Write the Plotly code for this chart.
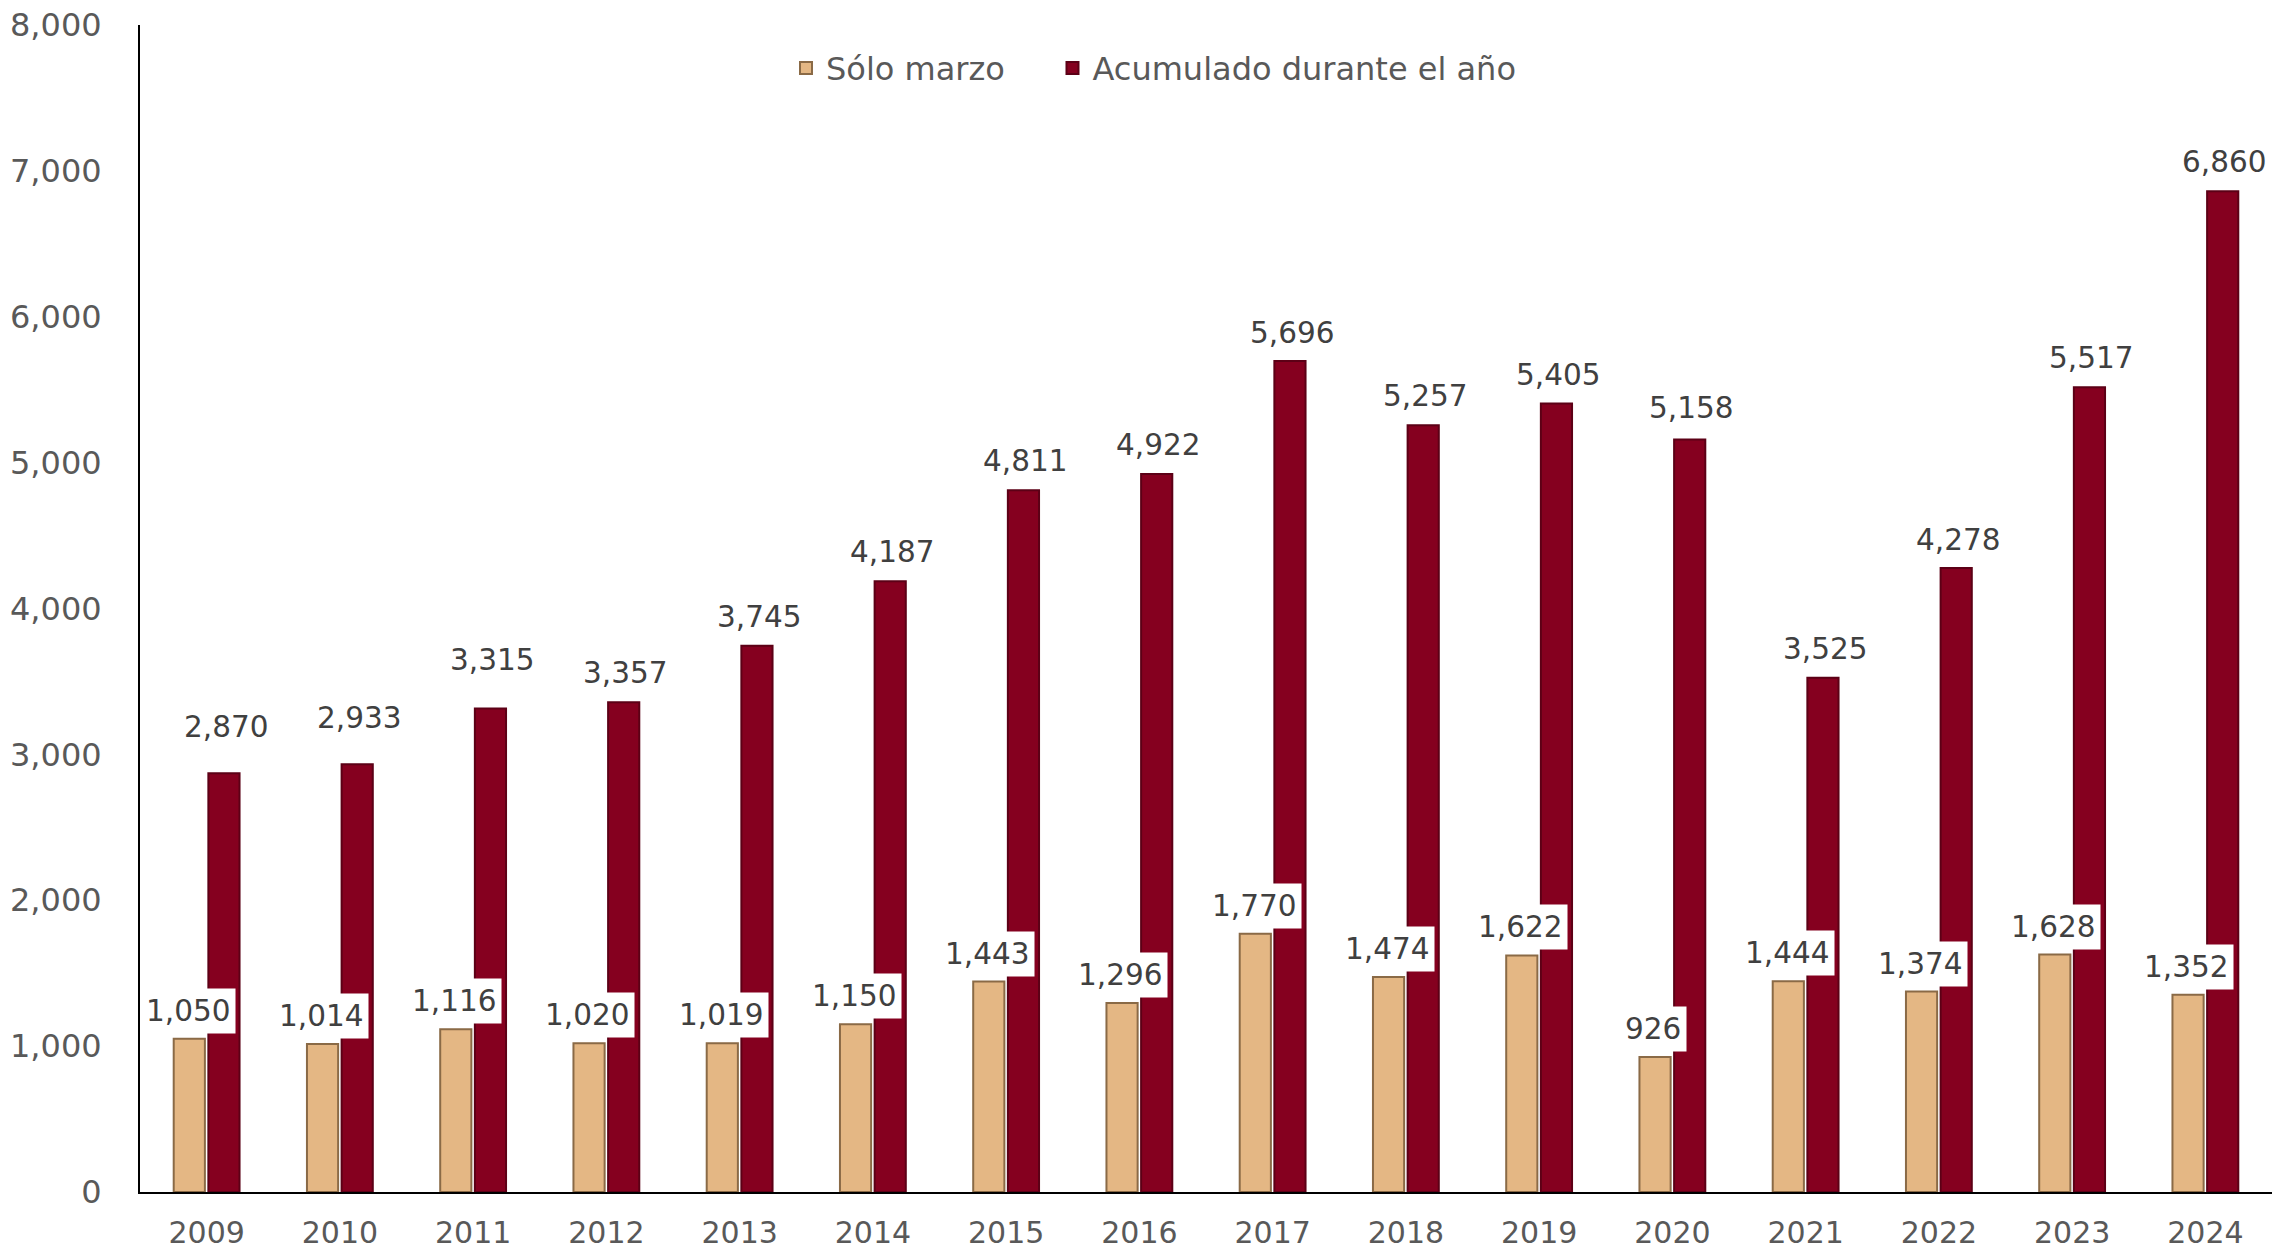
import plotly.graph_objects as go

years = ["2009", "2010", "2011", "2012", "2013", "2014", "2015", "2016",
         "2017", "2018", "2019", "2020", "2021", "2022", "2023", "2024"]
solo_marzo = [1050, 1014, 1116, 1020, 1019, 1150, 1443, 1296,
              1770, 1474, 1622, 926, 1444, 1374, 1628, 1352]
acumulado = [2870, 2933, 3315, 3357, 3745, 4187, 4811, 4922,
             5696, 5257, 5405, 5158, 3525, 4278, 5517, 6860]
y_ticks = [0, 1000, 2000, 3000, 4000, 5000, 6000, 7000, 8000]

# vertical lift (px) of the cumulative labels above their bar tops
red_label_lift = [46, 46, 48, 29, 29, 29, 29, 29, 28, 29, 29, 32, 29, 28, 29, 29]

FONT = "DejaVu Sans, Verdana, sans-serif"

fig = go.Figure()
fig.add_trace(go.Bar(
    x=years, y=solo_marzo, name="Sólo marzo", legend="legend",
    marker=dict(color="#E4B784", line=dict(color="#8A6A46", width=2)),
))
fig.add_trace(go.Bar(
    x=years, y=acumulado, name="Acumulado durante el año", legend="legend2",
    marker=dict(color="#85001F", line=dict(color="#5C0016", width=2)),
))

ann = []
for i, yr in enumerate(years):
    ann.append(dict(
        x=i, y=solo_marzo[i], xref="x", yref="y",
        text=f"{solo_marzo[i]:,}", showarrow=False,
        xshift=-19, yshift=28, yanchor="middle",
        bgcolor="white", borderpad=5,
        font=dict(family=FONT, size=29.5, color="#404040"),
    ))
    ann.append(dict(
        x=i, y=acumulado[i], xref="x", yref="y",
        text=f"{acumulado[i]:,}", showarrow=False,
        xshift=19, yshift=red_label_lift[i], yanchor="middle",
        font=dict(family=FONT, size=29.5, color="#404040"),
    ))

leg_common = dict(
    orientation="h", xanchor="left", y=0.963, yanchor="middle",
    font=dict(family=FONT, size=32, color="#595959"),
    bgcolor="rgba(0,0,0,0)", itemwidth=30,
)

# the page adds an 8px body margin, so the figure is sized/offset to compensate
fig.update_layout(
    width=2273, height=1239,
    margin=dict(l=132, r=9, t=17, b=55, autoexpand=False),
    paper_bgcolor="white", plot_bgcolor="white",
    barmode="group", bargap=0.48, bargroupgap=0.1,
    font=dict(family=FONT, size=28, color="#595959"),
    showlegend=True,
    legend=dict(x=0.303, **leg_common),
    legend2=dict(x=0.428, **leg_common),
    annotations=ann,
    xaxis=dict(
        type="category", range=[-0.5, len(years) - 0.5], automargin=False,
        showline=True, linecolor="black", linewidth=2,
        showgrid=False, ticks="", ticklabelstandoff=13,
        ticklabeloverflow="allow",
        tickfont=dict(family=FONT, size=30, color="#595959"),
    ),
    yaxis=dict(
        range=[0, 8000], tickvals=y_ticks, tickformat=",", automargin=False,
        showline=True, linecolor="black", linewidth=2,
        showgrid=False, zeroline=False, ticks="", ticklabelstandoff=30,
        ticklabeloverflow="allow",
        tickfont=dict(family=FONT, size=32, color="#595959"),
    ),
)

fig.write_html("out.html")
